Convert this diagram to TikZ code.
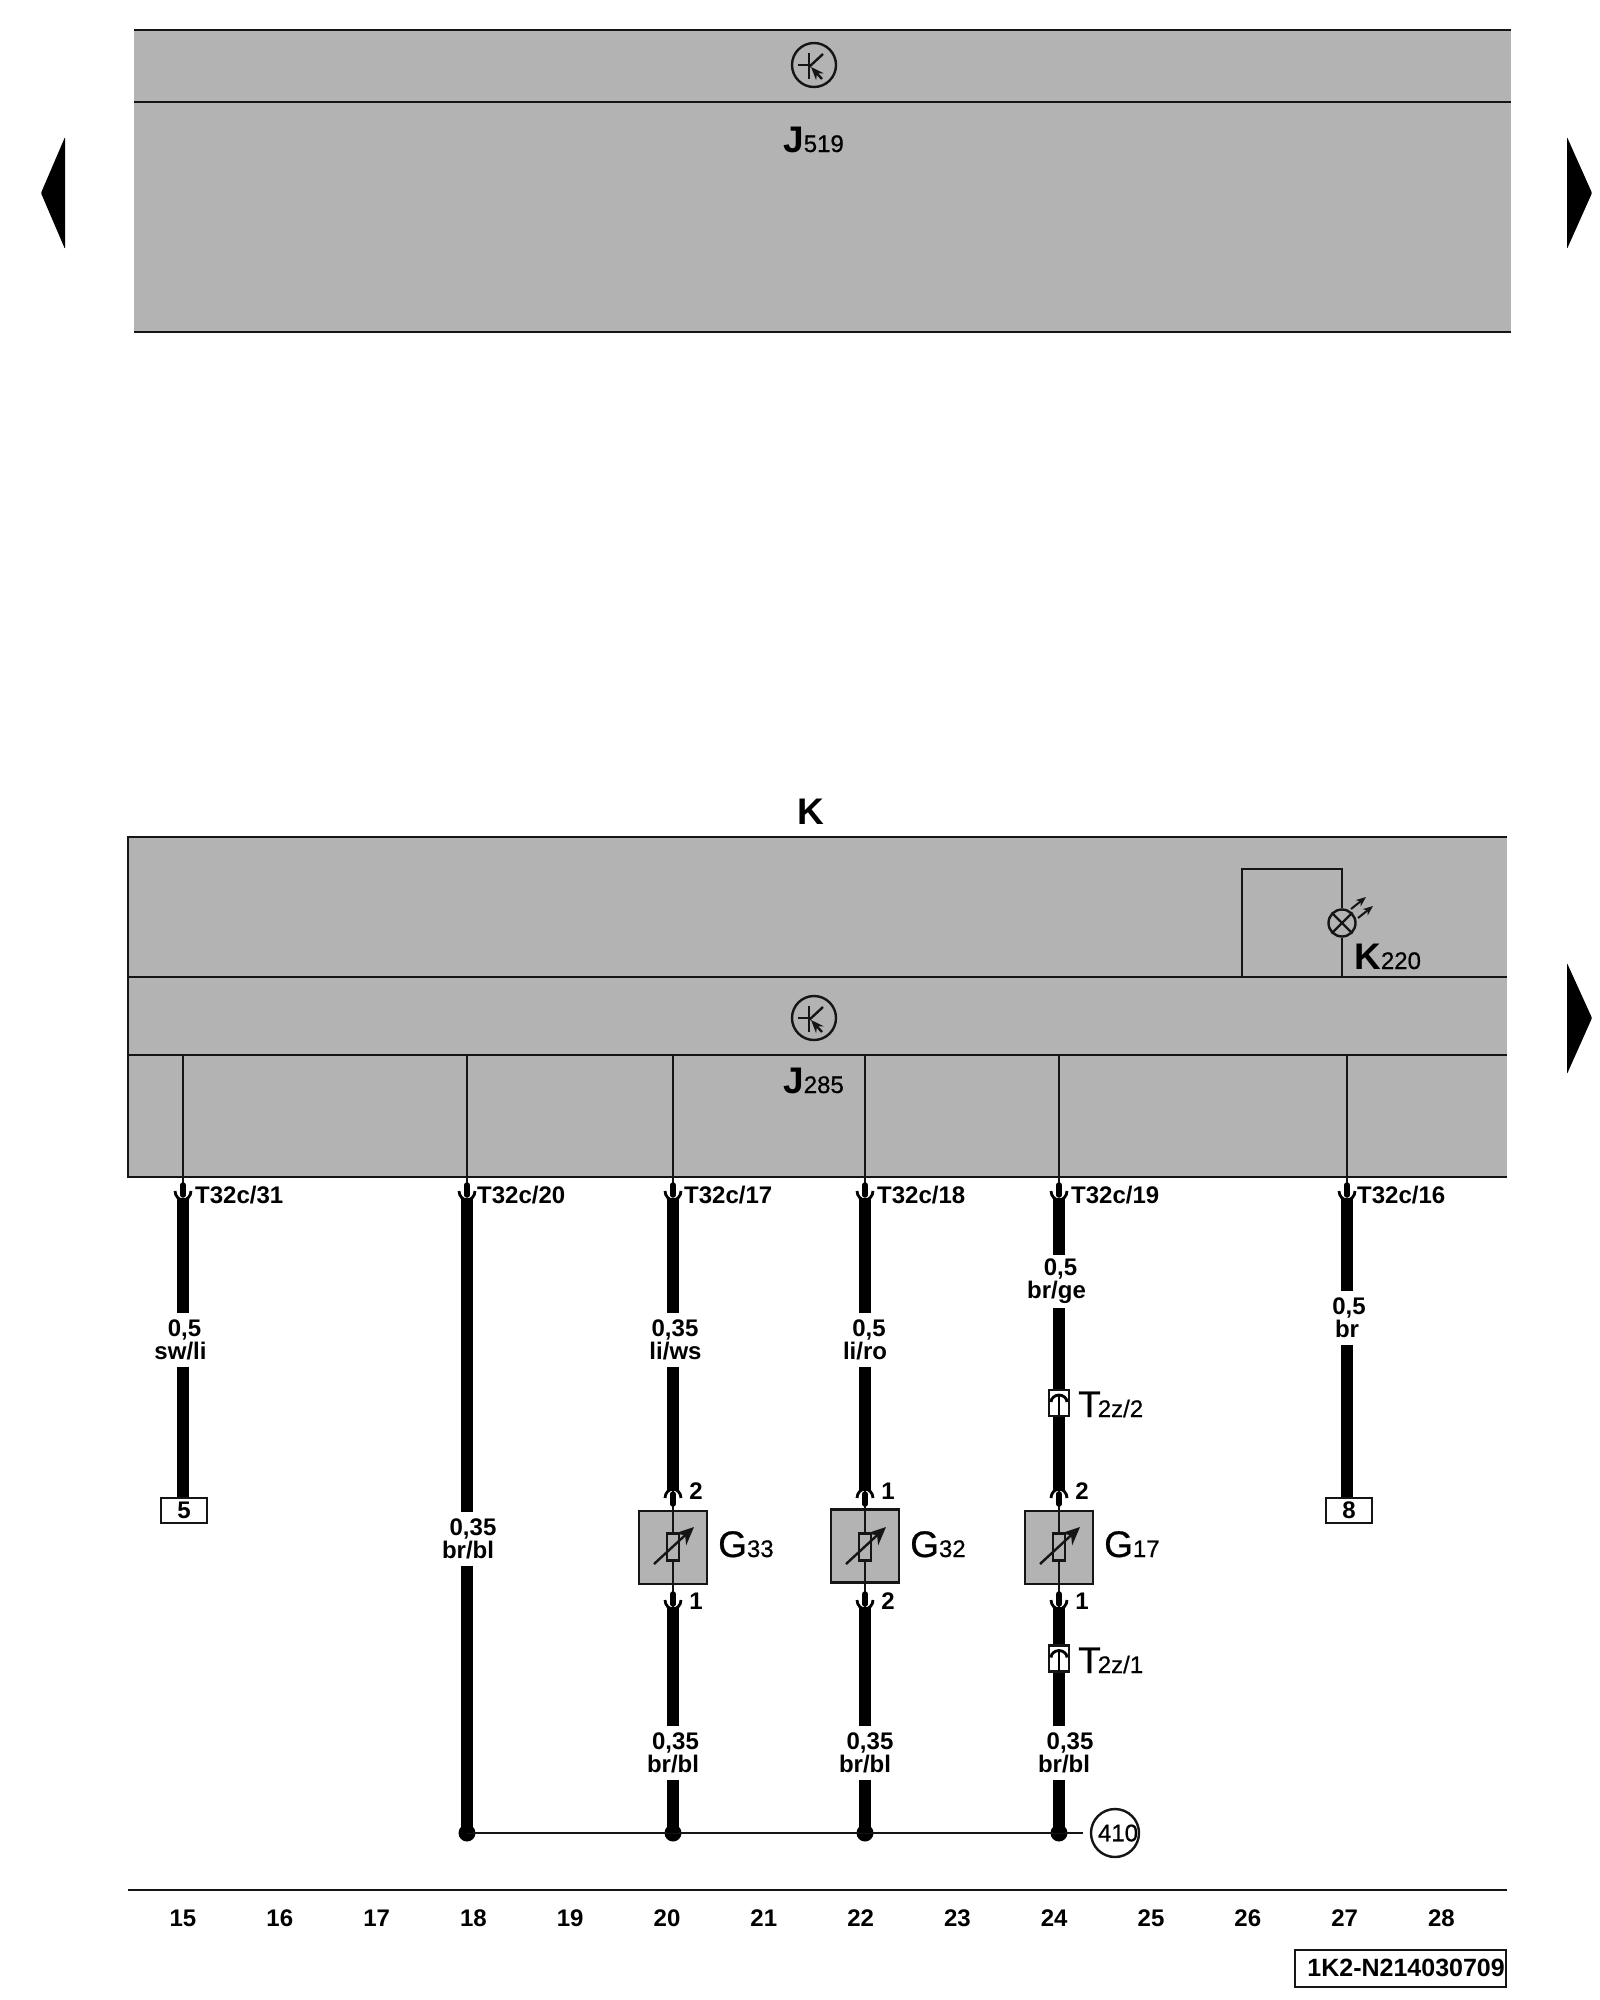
\documentclass[tikz,border=0pt]{standalone}
\usepackage{xcolor}
\usepackage{fontspec}
\setmainfont{Liberation Sans}
\newfontfamily\medfont[FakeBold=0.6]{Liberation Sans}
\usetikzlibrary{arrows.meta, calc}

\definecolor{panelgray}{HTML}{B3B3B3}
\definecolor{ink}{HTML}{151515}
\newcommand{\bigtag}[2]{{\medfont\fontsize{37}{37}\selectfont #1}{\medfont\fontsize{24}{24}\selectfont #2}}
\newcommand{\boldtag}[2]{{\bfseries\fontsize{37}{37}\selectfont #1}{\medfont\fontsize{24}{24}\selectfont #2}}

\tikzset{
    panel/.style={fill=panelgray, draw=none},
    rule/.style={draw=ink, line width=2.4pt},
    thinwire/.style={draw=ink, line width=2.4pt},
    thickwire/.style={draw=black, line width=12pt},
    pinstem/.style={draw=black, line width=5.5pt, line cap=round},
    pincup/.style={draw=black, line width=2.8pt},
    smalltext/.style={font=\bfseries\fontsize{24}{23}\selectfont, text=black, inner sep=0pt},
    gauge/.style={smalltext, align=center, minimum height=53pt, yshift=1.5pt},
    tagtext/.style={text=black, inner sep=0pt, anchor=base west},
    framebox/.style={draw=ink, line width=2.4pt, fill=white, inner sep=0pt, minimum width=46pt, minimum height=25pt, smalltext},
    sensorbox/.style={draw=ink, line width=2.4pt, fill=panelgray, inner sep=0pt, minimum width=68pt, minimum height=73pt},
    resistor/.style={draw=ink, line width=2.4pt, fill=panelgray, inner sep=0pt, minimum width=12pt, minimum height=27pt},
    joint/.style={circle, fill=black, inner sep=0pt, minimum size=17pt},
    plugbox/.style={draw=ink, line width=2.4pt, fill=white, inner sep=0pt, minimum width=20pt, minimum height=26pt},
    transistor/.pic={
        \draw[ink, line width=2.4pt] (0,0) circle (22);
        \draw[ink, line width=2.4pt] (-16,0) -- (-5,0);
        \draw[ink, line width=2.8pt] (-5,-12) -- (-5,14);
        \draw[ink, line width=2.4pt] (-5,2) -- (9,-11);
        \draw[ink, line width=2.4pt, -{Stealth[length=13pt, width=10pt]}] (8,14) -- (-3,2);
    },
    pincontact/.pic={
        \draw[pinstem] (0,-13) -- (0,-3);
        \draw[pincup] (-8,-7) .. controls (-8,-2) and (-4,2) .. (0,2) .. controls (4,2) and (8,-2) .. (8,-7);
    }
}

\begin{document}
\begin{tikzpicture}[x=1pt, y=-1pt]
    \useasboundingbox (0,0) rectangle (1600,2000);

    % upper unit
    \fill[panel] (134,30) rectangle (1511,332);
    \draw[rule] (134,30) -- (1511,30);
    \draw[rule] (134,102) -- (1511,102);
    \draw[rule] (134,332) -- (1511,332);
    \pic at (814,65) {transistor};
    \node[tagtext] (J519) at (783,152) {\boldtag{J}{519}};

    % page arrows
    \fill[black, rounded corners=1pt] (65,137) -- (41,193) -- (65,249) -- cycle;
    \fill[black, rounded corners=1pt] (1567,137) -- (1592,193) -- (1567,249) -- cycle;
    \fill[black, rounded corners=1pt] (1567,963) -- (1592,1018) -- (1567,1074) -- cycle;

    % instrument cluster
    \node[tagtext] (Klabel) at (797,824) {\boldtag{K}{}};
    \fill[panel] (128,837) rectangle (1507,1177);
    \draw[rule] (1507,837) -- (128,837) -- (128,1177) -- (1507,1177);
    \draw[rule] (128,977) -- (1507,977);
    \draw[rule] (128,1055) -- (1507,1055);
    \pic at (814,1018) {transistor};
    \node[tagtext] (J285) at (783,1093) {\boldtag{J}{285}};

    % warning lamp
    \node[circle, draw=ink, line width=2.4pt, inner sep=0pt, minimum size=27pt] (lamp) at (1342,923) {};
    \coordinate (lampA) at (1242,977);
    \coordinate (lampB) at (1342,977);
    \draw[rule] (lampA) -- (1242,869) -- (1342,869) -- (lamp.north);
    \draw[rule] (lamp.south) -- (lampB);
    \draw[rule] (lamp.45) -- (lamp.225);
    \draw[rule] (lamp.135) -- (lamp.315);
    \draw[ink, line width=2pt, -{Stealth[length=10pt, width=8pt]}] (1351,909) -- (1366,897);
    \draw[ink, line width=2pt, -{Stealth[length=10pt, width=8pt]}] (1358,918) -- (1373,906);
    \node[tagtext] (K220) at (1354,969) {\boldtag{K}{220}};

    % cluster pins
    \foreach \n/\x/\ox in {31/183/12, 20/467/10, 17/673/11, 18/865/12, 19/1059/12, 16/1347/10} {
        \coordinate (bus\n) at (\x,1055);
        \coordinate (pin\n) at (\x,1186);
        \coordinate (c\n) at (\x,1198);
        \draw[thinwire] (bus\n) -- (pin\n);
        \pic at (c\n) {pincontact};
        \node[smalltext, anchor=base west] (t\n) at (\x+\ox,1203) {T32c/\n};
    }

    % gauge texts on the wires
    \node[gauge] (w31) at (183,1341.5) {\hspace*{3pt}0,5\\sw/li\hspace*{5pt}};
    \node[gauge] (w20) at (467,1540.5) {\hspace*{12pt}0,35\\\hspace*{2pt}br/bl};
    \node[gauge] (w17) at (673,1341.5) {\hspace*{4pt}0,35\\\hspace*{5pt}li/ws};
    \node[gauge] (w18) at (865,1341.5) {\hspace*{8pt}0,5\\li/ro};
    \node[gauge] (w19) at (1059,1283) {\hspace*{3pt}0,5\\br/ge\hspace*{5pt}};
    \node[gauge] (w16) at (1347,1319.5) {\hspace*{4pt}0,5\\br};
    \node[gauge] (b17) at (673,1754.5) {\hspace*{5pt}0,35\\br/bl};
    \node[gauge] (b18) at (865,1754.5) {\hspace*{10pt}0,35\\br/bl};
    \node[gauge] (b19) at (1059,1754.5) {\hspace*{22pt}0,35\\\hspace*{10pt}br/bl};

    % connector blocks
    \node[framebox] (box5) at (184,1510.5) {5};
    \node[framebox] (box8) at (1349,1510.5) {8};

    % sensors
    \foreach \n/\x/\y/\up/\low in {33/673/1547.5/2/1, 32/865/1546/1/2, 17/1059/1547.5/2/1} {
        \coordinate (top\n) at (\x,1491);
        \coordinate (low\n) at (\x,1607);
        \node[sensorbox] (G\n) at (\x,\y) {};
        \draw[thinwire] (top\n) -- (low\n);
        \node[resistor] (R\n) at (\x,1547) {};
        \draw[ink, line width=2.4pt, -{Stealth[length=18pt, width=16pt]}] (\x-19,1564) -- (\x+21,1527);
        \pic[yscale=-1] at (top\n) {pincontact};
        \pic at (low\n) {pincontact};
        \node[smalltext] (up\n) at (\x+23,1491) {\up};
        \node[smalltext] (dn\n) at (\x+23,1601) {\low};
        \node[tagtext] (Gl\n) at (\x+45,1557) {\bigtag{G}{\n}};
    }

    % splice and ground
    \node[joint] (d20) at (467,1833) {};
    \node[joint] (d17) at (673,1833) {};
    \node[joint] (d18) at (865,1833) {};
    \node[joint] (d19) at (1059,1833) {};
    \coordinate (busend) at (1083,1833);
    \draw[rule] (d20.center) -- (busend);
    \node[circle, draw=ink, line width=2.4pt, inner sep=0pt, minimum size=48pt] (g410) at (1115,1833) {};
    \node[smalltext, font=\medfont\fontsize{24}{24}\selectfont] (g410text) at (1118,1833) {410};

    % two pin plug
    \node[plugbox] (T2) at (1059,1403) {};
    \node[plugbox] (T1) at (1059,1658.5) {};

    % wires
    \draw[thickwire] (c31) -- (w31.north);
    \draw[thickwire] (w31.south) -- (w31.south |- box5.north);
    \draw[thickwire] (c20) -- (w20.north);
    \draw[thickwire] (w20.south) -- (d20.center);
    \draw[thickwire] (c17) -- (w17.north);
    \draw[thickwire] (w17.south) -- (top33);
    \draw[thickwire] (low33) -- (b17.north);
    \draw[thickwire] (b17.south) -- (d17.center);
    \draw[thickwire] (c18) -- (w18.north);
    \draw[thickwire] (w18.south) -- (top32);
    \draw[thickwire] (low32) -- (b18.north);
    \draw[thickwire] (b18.south) -- (d18.center);
    \draw[thickwire] (c19) -- (w19.north);
    \draw[thickwire] (w19.south) -- (T2.north);
    \draw[thickwire] (T2.south) -- (top17);
    \draw[thickwire] (low17) -- (T1.north);
    \draw[thickwire] (T1.south) -- (b19.north);
    \draw[thickwire] (b19.south) -- (d19.center);
    \draw[thickwire] (c16) -- (w16.north);
    \draw[thickwire] (w16.south) -- (w16.south |- box8.north);

    % plug contacts and names
    \foreach \p in {T2, T1} {
        \draw[black, line width=2.4pt] ($(\p.north)+(0,5)$) -- ($(\p.south)+(0,-2)$);
        \draw[pincup] ($(\p.center)+(-8,-1)$) .. controls +(0,-4) and +(-4,0) .. ($(\p.center)+(0,-8)$) .. controls +(4,0) and +(0,-4) .. ($(\p.center)+(8,-1)$);
    }
    \node[tagtext] (T2text) at (1078,1417) {\bigtag{T}{\kern-3pt 2z/2}};
    \node[tagtext] (T1text) at (1078,1673) {\bigtag{T}{\kern-3pt 2z/1}};

    % footer
    \coordinate (footA) at (128,1890);
    \coordinate (footB) at (1507,1890);
    \draw[rule] (footA) -- (footB);
    \foreach \c [count=\i from 0] in {15,16,...,28} {
        \node[smalltext] (col\c) at (183+96.8*\i,1918) {\c};
    }
    \node[draw=ink, line width=2.4pt, inner sep=0pt, minimum width=211pt, minimum height=37pt] (idbox) at (1400.5,1968.5) {};
    \node[smalltext, font=\bfseries\fontsize{25}{25}\selectfont, anchor=east] (idtext) at (1505,1968) {1K2-N214030709};
\end{tikzpicture}
\end{document}
